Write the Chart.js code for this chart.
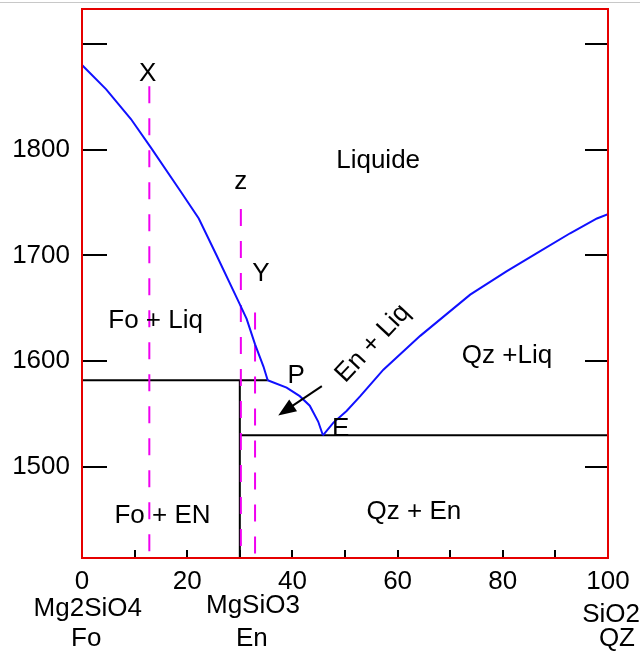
<!DOCTYPE html>
<html>
<head>
<meta charset="utf-8">
<script src="https://cdn.jsdelivr.net/npm/chart.js@4.4.0/dist/chart.umd.min.js"></script>
<style>
    html, body { margin: 0; padding: 0; background: #fff; }
    #wrap { position: relative; width: 640px; height: 652px; }
    #topRule { position: absolute; left: 0; top: 2px; width: 640px; height: 1px; background: #c8c8c8; }
</style>
</head>
<body>
<div id="wrap">
    <canvas id="diagram" width="640" height="652"></canvas>
    <div id="topRule"></div>
</div>
<script>
// ---------- Data (wt% SiO2 vs temperature) ----------
const liquidusFoX = [0, 4.6, 9.3, 13.1, 18.7, 22.2, 25.6, 29.9, 31.3, 32.9, 34.5, 35.3];
const liquidusFoT = [1880, 1857, 1829, 1802, 1761, 1735, 1700, 1655, 1640, 1616, 1595, 1582];
const liquidusEnX = [35.3, 38.9, 41.4, 43.3, 44.9, 45.8];
const liquidusEnT = [1582, 1575, 1567, 1558, 1543, 1530];
const liquidusQzX = [45.8, 47.8, 50.3, 52.9, 57.3, 64.3, 73.8, 80.7, 86.4, 92.8, 97.9, 100];
const liquidusQzT = [1530, 1542, 1553, 1567, 1592, 1624, 1663, 1685, 1702, 1721, 1735, 1739];

const peritecticX = [0, 35.3];
const peritecticT = [1582, 1582];
const enstatiteX = [30, 30];
const enstatiteT = [1414, 1582];
const eutecticX = [30, 100];
const eutecticT = [1530, 1530];

// isopleths X, z, Y (bulk compositions)
const isoplethX = [12.8, 30.2, 32.9];
const isoplethTop = [1860, 1744, 1646];

// crystallisation arrow along the En + Liq field
const arrowX = [45.6, 37.3];
const arrowT = [1576.5, 1548.8];

const xTicks = [0, 10, 20, 30, 40, 50, 60, 70, 80, 90, 100];
const xTickLabels = [0, 20, 40, 60, 80, 100];
const yTicks = [1500, 1600, 1700, 1800, 1900];
const yTickLabels = [1500, 1600, 1700, 1800];

const fieldText = ['X', 'z', 'Y', 'Liquide', 'Fo + Liq', 'En + Liq', 'Qz +Liq', 'P', 'E', 'Fo + EN', 'Qz + En'];
const fieldX = [12.5, 30.2, 34.0, 56.3, 14.0, 55.3, 80.8, 40.7, 49.2, 15.3, 63.1];
const fieldT = [1864.5, 1762.5, 1675.6, 1782.7, 1631, 1616.8, 1598.6, 1579.7, 1529.3, 1447.5, 1451];
const fieldAngle = [0, 0, 0, 0, 0, -47, 0, 0, 0, 0, 0];

const phaseFormula = ['Mg2SiO4', 'MgSiO3', 'SiO2'];
const phaseAbbr = ['Fo', 'En', 'QZ'];
const phaseX = [1.1, 32.5, 100.6];
const phaseAbbrX = [0.8, 32.3, 101.7];

// ---------- Styling ----------
const FAMILY = '"Liberation Sans", Arial, sans-serif';
const FONT = '26px ' + FAMILY;
const FRAME = '#e60000';
const BLUE = '#1010ff';
const MAGENTA = '#f000f0';

const pts = (xs, ts) => xs.map((x, i) => ({ x: x, y: ts[i] }));

function seg(data, color, width, dash, order) {
    return {
        data: data,
        showLine: true,
        borderColor: color,
        borderWidth: width,
        borderDash: dash || [],
        pointRadius: 0,
        tension: 0,
        fill: false,
        order: order
    };
}

const datasets = [
    seg(pts(liquidusFoX, liquidusFoT), BLUE, 2, null, 1),
    seg(pts(liquidusEnX, liquidusEnT), BLUE, 2, null, 1),
    seg(pts(liquidusQzX, liquidusQzT), BLUE, 2, null, 1),
    seg(pts(peritecticX, peritecticT), '#000', 2, null, 3),
    seg(pts(enstatiteX, enstatiteT), '#000', 2, null, 3),
    seg(pts(eutecticX, eutecticT), '#000', 2, null, 3)
];
isoplethX.forEach((x, i) => {
    datasets.push(seg(pts([x, x], [isoplethTop[i], 1414]), MAGENTA, 2, [17, 15], 2));
});

// ---------- Overlay: frame, inner ticks, labels, arrow ----------
const overlay = {
    id: 'overlay',
    afterDatasetsDraw(chart) {
        const { ctx, chartArea: a, scales: { x, y } } = chart;
        ctx.save();

        // inner tick marks
        ctx.strokeStyle = '#000';
        ctx.lineWidth = 2;
        ctx.beginPath();
        yTicks.forEach(v => {
            const py = Math.round(y.getPixelForValue(v));
            ctx.moveTo(a.left, py); ctx.lineTo(a.left + 25, py);
            ctx.moveTo(a.right, py); ctx.lineTo(a.right - 23, py);
        });
        xTicks.slice(1, -1).forEach(v => {
            const px = Math.round(x.getPixelForValue(v));
            ctx.moveTo(px, a.bottom); ctx.lineTo(px, a.bottom - 8);
        });
        ctx.stroke();

        // arrow
        const x0 = x.getPixelForValue(arrowX[0]), y0 = y.getPixelForValue(arrowT[0]);
        const x1 = x.getPixelForValue(arrowX[1]), y1 = y.getPixelForValue(arrowT[1]);
        const ang = Math.atan2(y1 - y0, x1 - x0);
        const head = 18, half = 7;
        ctx.beginPath();
        ctx.moveTo(x0, y0);
        ctx.lineTo(x1 - Math.cos(ang) * head * 0.8, y1 - Math.sin(ang) * head * 0.8);
        ctx.stroke();
        ctx.fillStyle = '#000';
        ctx.beginPath();
        ctx.moveTo(x1, y1);
        ctx.lineTo(x1 - Math.cos(ang) * head - Math.sin(ang) * half, y1 - Math.sin(ang) * head + Math.cos(ang) * half);
        ctx.lineTo(x1 - Math.cos(ang) * head + Math.sin(ang) * half, y1 - Math.sin(ang) * head - Math.cos(ang) * half);
        ctx.closePath();
        ctx.fill();

        // field labels
        ctx.font = FONT;
        ctx.textAlign = 'center';
        fieldText.forEach((t, i) => {
            const px = x.getPixelForValue(fieldX[i]);
            const py = y.getPixelForValue(fieldT[i]);
            if (fieldAngle[i]) {
                ctx.save();
                ctx.translate(px, py);
                ctx.rotate(fieldAngle[i] * Math.PI / 180);
                ctx.textBaseline = 'middle';
                ctx.fillText(t, 0, 0);
                ctx.restore();
            } else {
                ctx.textBaseline = 'alphabetic';
                ctx.fillText(t, px, py);
            }
        });

        // phase names under the axis
        const formulaDrop = [58, 55, 64];
        ctx.textBaseline = 'alphabetic';
        phaseFormula.forEach((t, i) => {
            ctx.fillText(t, x.getPixelForValue(phaseX[i]), a.bottom + formulaDrop[i]);
            ctx.fillText(phaseAbbr[i], x.getPixelForValue(phaseAbbrX[i]), a.bottom + 88);
        });

        // red frame
        ctx.strokeStyle = FRAME;
        ctx.lineWidth = 2;
        ctx.strokeRect(a.left, a.top, a.right - a.left, a.bottom - a.top);
        ctx.restore();
    }
};

new Chart(document.getElementById('diagram').getContext('2d'), {
    type: 'scatter',
    data: { datasets: datasets },
    options: {
        responsive: false,
        animation: false,
        events: [],
        layout: { padding: { top: 9, right: 32, left: 0, bottom: 0 } },
        plugins: { legend: { display: false }, tooltip: { enabled: false } },
        scales: {
            x: {
                type: 'linear',
                min: 0,
                max: 100,
                afterBuildTicks: (axis) => { axis.ticks = xTicks.map(v => ({ value: v })); },
                afterFit: (axis) => {
                    axis.height = 94;
                    axis.paddingLeft = 0;
                    axis.paddingRight = 0;
                },
                grid: { display: false, drawTicks: false },
                border: { display: false },
                ticks: {
                    padding: 8,
                    autoSkip: false,
                    maxRotation: 0,
                    color: '#000',
                    font: { family: FAMILY, size: 26 },
                    callback: (v) => xTickLabels.includes(v) ? String(v) : ''
                }
            },
            y: {
                type: 'linear',
                min: 1414,
                max: 1933,
                afterBuildTicks: (axis) => { axis.ticks = yTicks.map(v => ({ value: v })); },
                afterFit: (axis) => {
                    axis.width = 82;
                    axis.paddingTop = 0;
                    axis.paddingBottom = 0;
                },
                grid: { display: false, drawTicks: false },
                border: { display: false },
                ticks: {
                    padding: 12,
                    color: '#000',
                    font: { family: FAMILY, size: 26 },
                    callback: (v) => yTickLabels.includes(v) ? String(v) : ''
                }
            }
        }
    },
    plugins: [overlay]
});
</script>
</body>
</html>
